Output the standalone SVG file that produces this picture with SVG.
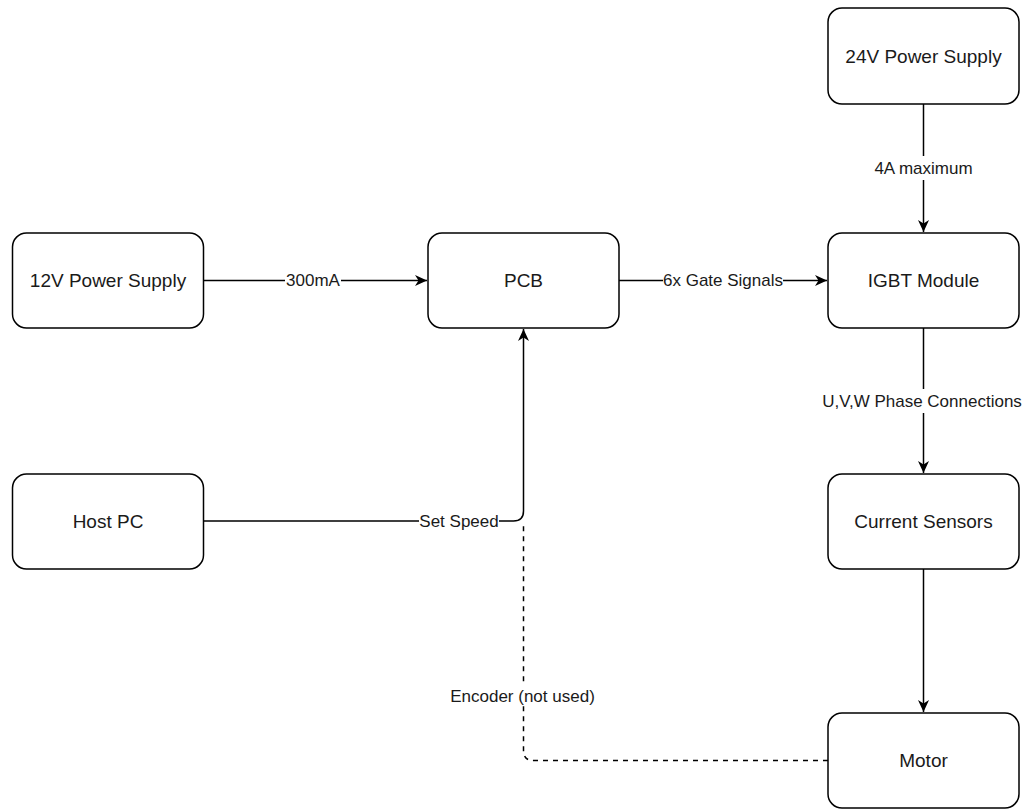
<svg xmlns="http://www.w3.org/2000/svg" width="1029" height="810" viewBox="0 0 1029 810">
<style>
.box{fill:#fff;stroke:#000;stroke-width:1.5}
.t{font-family:"Liberation Sans",Arial,sans-serif;font-size:19px;fill:#1a1a1a;text-anchor:middle;dominant-baseline:central}
.l{font-family:"Liberation Sans",Arial,sans-serif;font-size:17px;fill:#1a1a1a;text-anchor:middle;dominant-baseline:central}
.e{fill:none;stroke:#000;stroke-width:1.5}
.d{stroke-dasharray:5 5}
.bg{fill:#fff}
</style>
<defs>
<marker id="arr" markerUnits="userSpaceOnUse" markerWidth="14" markerHeight="12" refX="12" refY="6" orient="auto">
<path d="M0,0.5 L12,6 L0,11.5 L3.5,6 Z" fill="#000"/>
</marker>
</defs>
<rect width="1029" height="810" fill="#fff"/>
<g id="connectors">
<path class="e" d="M923.5,104 V232" marker-end="url(#arr)"/>
<path class="e" d="M923.5,328 V473" marker-end="url(#arr)"/>
<path class="e" d="M923.5,569 V712" marker-end="url(#arr)"/>
<path class="e" d="M203.5,280.5 H427" marker-end="url(#arr)"/>
<path class="e" d="M619,280.5 H827" marker-end="url(#arr)"/>
<path class="e d" d="M828,760.5 H533.5 Q523.5,760.5 523.5,750.5 V522"/>
<path class="e" d="M203.5,521 H513.5 Q523.5,521 523.5,511 V329" marker-end="url(#arr)"/>
<rect class="bg" x="886" y="156" width="75" height="24"/>
<text class="l" x="923.5" y="168">4A maximum</text>
<rect class="bg" x="822" y="389" width="202" height="24"/>
<text class="l" x="922" y="401">U,V,W Phase Connections</text>
<rect class="bg" x="285" y="271" width="56" height="20"/>
<text class="l" x="313" y="280.5">300mA</text>
<rect class="bg" x="663" y="271" width="120" height="20"/>
<text class="l" x="723" y="280.5">6x Gate Signals</text>
<rect class="bg" x="419" y="511" width="80" height="20"/>
<text class="l" x="459" y="521">Set Speed</text>
<rect class="bg" x="448" y="686" width="150" height="20"/>
<text class="l" x="522.5" y="696">Encoder (not used)</text>
</g>
<g id="ps24"><rect class="box" x="828" y="8" width="191" height="96" rx="14"/><text class="t" x="923.5" y="56">24V Power Supply</text></g>
<g id="ps12"><rect class="box" x="12.5" y="233" width="191" height="95" rx="14"/><text class="t" x="108" y="280.5">12V Power Supply</text></g>
<g id="pcb"><rect class="box" x="428" y="233" width="191" height="95" rx="14"/><text class="t" x="523.5" y="280.5">PCB</text></g>
<g id="igbt"><rect class="box" x="828" y="233" width="191" height="95" rx="14"/><text class="t" x="923.5" y="280.5">IGBT Module</text></g>
<g id="hostpc"><rect class="box" x="12.5" y="474" width="191" height="95" rx="14"/><text class="t" x="108" y="521.5">Host PC</text></g>
<g id="sensors"><rect class="box" x="828" y="474" width="191" height="95" rx="14"/><text class="t" x="923.5" y="521.5">Current Sensors</text></g>
<g id="motor"><rect class="box" x="828" y="713" width="191" height="95" rx="14"/><text class="t" x="923.5" y="760.5">Motor</text></g>
</svg>
